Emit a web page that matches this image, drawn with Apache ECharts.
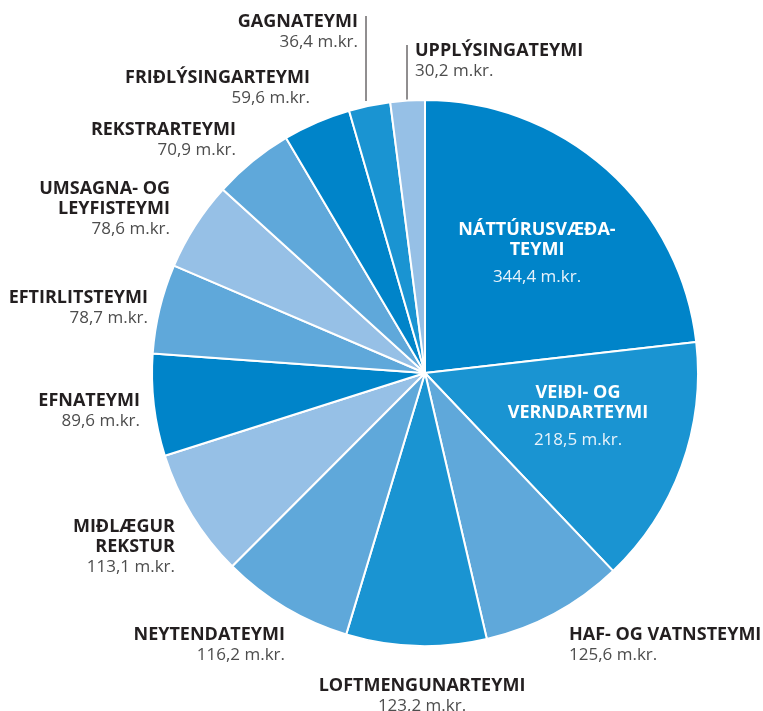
<!DOCTYPE html>
<html>
<head>
<meta charset="utf-8">
<script src="https://cdn.jsdelivr.net/npm/echarts@6/dist/echarts.min.js"></script>
<style>
  html, body { margin: 0; padding: 0; background: #fff; }
  #chart1 { width: 763px; height: 711px; }
</style>
</head>
<body>
<div id="chart1"></div>
<script>
// teymi og fjárveiting (m.kr.)
var names = ['NÁTTÚRUSVÆÐA-\nTEYMI', 'VEIÐI- OG\nVERNDARTEYMI', 'HAF- OG VATNSTEYMI', 'LOFTMENGUNARTEYMI',
    'NEYTENDATEYMI', 'MIÐLÆGUR\nREKSTUR', 'EFNATEYMI', 'EFTIRLITSTEYMI', 'UMSAGNA- OG\nLEYFISTEYMI',
    'REKSTRARTEYMI', 'FRIÐLÝSINGARTEYMI', 'GAGNATEYMI', 'UPPLÝSINGATEYMI'];
var values = [344.4, 218.5, 125.6, 123.2, 116.2, 113.1, 89.6, 78.7, 78.6, 70.9, 59.6, 36.4, 30.2];
var unit = 'm.kr.';

// litir sneiða
var colors = ['#0084c9', '#1a94d2', '#5fa8da', '#1a94d2', '#5fa8da', '#96c0e6', '#0084c9',
    '#5fa8da', '#96c0e6', '#5fa8da', '#0084c9', '#1a94d2', '#96c0e6'];

// staðsetning merkja: [x, y, align]
var labelPos = [
    [537, 220, 'center'], [578, 383, 'center'], [569, 625, 'left'], [422, 676, 'center'],
    [285, 625, 'right'], [175, 517, 'right'], [140, 391, 'right'], [148, 288, 'right'],
    [170, 179, 'right'], [236, 120, 'right'], [310, 68, 'right'], [358, 12, 'right'], [415, 41, 'left']
];
var lineX = { 11: 366, 12: 407 };

function fmt(v) {
    return v.toFixed(1).replace('.', ',') + ' ' + unit;
}

var data = values.map(function (v, i) {
    var inside = i < 2;
    var nm = names[i].split('\n').map(function (s) {
        return '{' + (inside ? 'ni' : 'n') + '|' + s + '}';
    }).join('\n');
    return {
        name: names[i],
        value: v,
        itemStyle: { color: colors[i] },
        label: { formatter: nm + '\n{' + (inside ? 'vi' : 'v') + '|' + fmt(v) + '}' },
        labelLine: { show: lineX[i] !== undefined, lineStyle: { color: '#231f20', width: 1 } }
    };
});

var myChart = echarts.init(document.getElementById('chart1'));
var option = {
    animation: false,
    series: [{
        type: 'pie',
        center: ['425px', '373px'],
        radius: 273,
        startAngle: 90,
        clockwise: true,
        avoidLabelOverlap: false,
        itemStyle: { borderColor: '#fff', borderWidth: 2 },
        label: {
            show: true,
            position: 'outside',
            fontFamily: 'Open Sans',
            rich: {
                n: { fontFamily: 'Open Sans', fontSize: 18, fontWeight: 'bold', color: '#231f20', lineHeight: 20 },
                v: { fontFamily: 'Open Sans', fontSize: 17, color: '#4d4d4d', lineHeight: 21 },
                ni: { fontFamily: 'Open Sans', fontSize: 18, fontWeight: 'bold', color: '#fff', lineHeight: 20 },
                vi: { fontFamily: 'Open Sans', fontSize: 17, color: '#e8f3fb', lineHeight: 34 }
            }
        },
        labelLine: { show: false },
        labelLayout: function (p) {
            var lp = labelPos[p.dataIndex];
            var res = { x: lp[0], y: lp[1], align: lp[2], verticalAlign: 'top' };
            var lx = lineX[p.dataIndex];
            if (lx !== undefined) {
                res.labelLinePoints = [[lx, 101], [lx, 60], [lx, lp[1] + 4]];
            }
            return res;
        },
        data: data
    }]
};
myChart.setOption(option);
</script>
</body>
</html>
